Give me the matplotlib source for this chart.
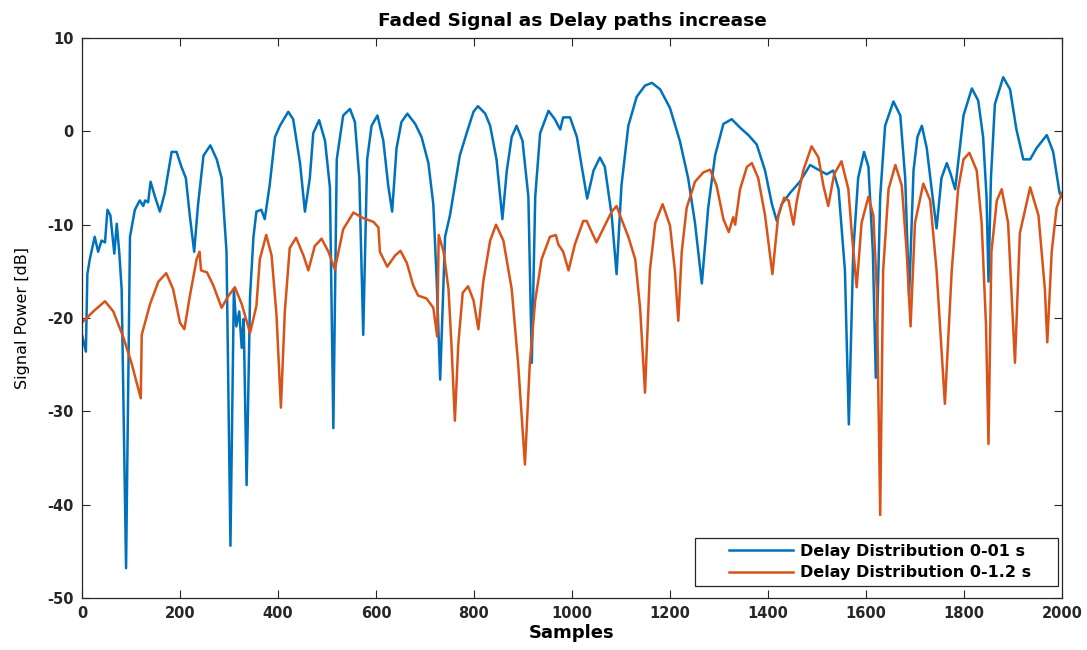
import matplotlib
matplotlib.use("Agg")
import matplotlib.pyplot as plt
from matplotlib.patches import Rectangle

# blue series: Delay Distribution 0-01 s (samples, dB)
blue_x = [0, 8, 11, 16, 26, 33, 40, 47, 52, 58, 66, 71, 76, 81, 90, 98, 108, 118, 125, 129,
          135, 140, 149, 159, 169, 183, 193, 203, 212, 220, 229, 237, 248, 262, 275, 285, 295, 303, 310, 315,
          321, 326, 330, 336, 343, 350, 356, 366, 373, 383, 394, 404, 421, 431, 445, 455, 465, 472, 484, 496,
          506, 513, 520, 533, 547, 557, 566, 574, 582, 591, 603, 615, 625, 633, 642, 652, 664, 680, 693, 707,
          717, 724, 731, 741, 751, 761, 771, 785, 799, 808, 823, 833, 846, 858, 867, 877, 887, 899, 911, 918,
          925, 935, 952, 965, 976, 982, 996, 1010, 1020, 1031, 1044, 1057, 1067, 1081, 1091, 1101, 1115, 1132, 1149, 1163,
          1180, 1200, 1220, 1237, 1251, 1265, 1278, 1292, 1309, 1326, 1343, 1360, 1377, 1394, 1408, 1418, 1428, 1445, 1465, 1486,
          1499, 1520, 1533, 1544, 1557, 1565, 1574, 1584, 1596, 1605, 1614, 1620, 1629, 1639, 1656, 1670, 1680, 1688, 1697, 1705,
          1714, 1724, 1734, 1744, 1754, 1765, 1773, 1782, 1788, 1799, 1816, 1829, 1839, 1846, 1850, 1855, 1863, 1880, 1894, 1907,
          1921, 1935, 1948, 1969, 1982, 1995, 2000]
blue_y = [-21.8, -23.6, -15.3, -13.7, -11.3, -12.9, -11.7, -11.9, -8.4, -9.0, -13.1, -9.9, -12.9, -16.9, -46.8, -11.3, -8.4, -7.4, -8.0, -7.4,
          -7.6, -5.4, -7.0, -8.6, -6.6, -2.2, -2.2, -3.8, -5.0, -9.0, -12.9, -7.8, -2.6, -1.5, -3.0, -5.0, -12.9, -44.4, -16.9, -20.9,
          -19.3, -23.2, -20.1, -37.9, -17.7, -11.3, -8.6, -8.4, -9.4, -5.8, -0.6, 0.6, 2.1, 1.3, -3.4, -8.6, -5.0, -0.2, 1.2, -1.0,
          -6.0, -31.8, -3.0, 1.7, 2.4, 1.0, -5.0, -21.8, -3.0, 0.6, 1.7, -1.0, -5.8, -8.6, -1.8, 1.0, 1.9, 0.8, -0.6, -3.4,
          -7.8, -16.1, -26.6, -11.3, -9.0, -5.8, -2.6, -0.2, 2.1, 2.7, 1.9, 0.6, -3.0, -9.4, -4.2, -0.6, 0.6, -1.0, -7.0, -24.8,
          -7.0, -0.2, 2.2, 1.3, 0.2, 1.5, 1.5, -0.6, -3.8, -7.2, -4.2, -2.8, -3.8, -9.0, -15.3, -5.8, 0.6, 3.7, 4.9, 5.2,
          4.5, 2.5, -1.0, -5.0, -9.8, -16.3, -8.2, -2.6, 0.8, 1.3, 0.4, -0.4, -1.4, -4.2, -7.8, -9.6, -7.8, -6.6, -5.4, -3.6,
          -4.0, -4.6, -4.2, -6.2, -14.9, -31.4, -12.9, -5.0, -2.2, -3.8, -12.9, -26.4, -7.0, 0.6, 3.2, 1.7, -5.0, -17.7, -4.2, -0.6,
          0.6, -1.8, -6.2, -10.4, -5.0, -3.4, -4.6, -6.2, -3.4, 1.7, 4.6, 3.3, -0.6, -7.0, -16.1, -5.0, 2.9, 5.8, 4.5, 0.2,
          -3.0, -3.0, -1.8, -0.4, -2.2, -6.6, -7.0]

# orange series: Delay Distribution 0-1.2 s
red_x = [0, 23, 47, 64, 84, 101, 120, 122, 139, 156, 172, 186, 200, 209, 220, 234, 240, 243, 255, 268,
         285, 298, 312, 326, 343, 356, 363, 376, 387, 397, 406, 414, 424, 437, 452, 462, 475, 489, 503, 516,
         533, 554, 574, 595, 605, 608, 623, 639, 650, 663, 676, 686, 703, 717, 725, 728, 738, 748, 754, 761,
         768, 777, 788, 799, 809, 819, 833, 845, 860, 877, 890, 904, 914, 925, 938, 955, 967, 972, 982, 993,
         1006, 1023, 1030, 1050, 1067, 1081, 1091, 1101, 1115, 1129, 1139, 1149, 1159, 1170, 1185, 1200, 1210, 1217, 1224, 1234,
         1251, 1268, 1282, 1295, 1309, 1320, 1329, 1333, 1343, 1357, 1367, 1380, 1394, 1409, 1421, 1433, 1442, 1452, 1459, 1472,
         1489, 1503, 1513, 1523, 1535, 1550, 1564, 1571, 1581, 1591, 1605, 1615, 1622, 1629, 1635, 1646, 1660, 1673, 1683, 1691,
         1700, 1717, 1731, 1744, 1761, 1775, 1788, 1799, 1811, 1826, 1836, 1845, 1850, 1856, 1867, 1877, 1890, 1904, 1914, 1935,
         1952, 1965, 1970, 1979, 1989, 2000]
red_y = [-20.5, -19.3, -18.2, -19.3, -22.0, -24.8, -28.6, -21.8, -18.5, -16.1, -15.2, -16.9, -20.5, -21.2, -17.7, -13.7, -12.9, -14.9, -15.1, -16.5,
         -18.9, -17.7, -16.7, -18.5, -21.6, -18.7, -13.7, -11.1, -13.3, -19.7, -29.6, -19.3, -12.5, -11.4, -13.3, -14.9, -12.3, -11.5, -12.9, -14.8,
         -10.5, -8.7, -9.3, -9.7, -10.3, -12.9, -14.5, -13.3, -12.8, -14.1, -16.5, -17.6, -17.9, -18.9, -22.0, -11.1, -12.9, -16.9, -22.8, -31.0,
         -22.8, -17.3, -16.6, -18.1, -21.2, -16.1, -11.7, -10.0, -11.7, -16.9, -24.8, -35.7, -24.8, -18.1, -13.7, -11.3, -11.1, -12.1, -12.9, -14.9,
         -12.1, -9.6, -9.6, -11.9, -10.1, -8.6, -8.0, -9.4, -11.3, -13.7, -18.9, -28.0, -14.9, -9.8, -7.8, -10.1, -14.9, -20.3, -12.9, -8.2,
         -5.4, -4.4, -4.1, -5.8, -9.4, -10.8, -9.2, -10.0, -6.2, -3.8, -3.4, -5.0, -9.0, -15.3, -9.0, -7.1, -7.4, -10.0, -7.4, -4.2,
         -1.6, -2.8, -5.8, -8.0, -4.6, -3.2, -6.2, -10.9, -16.7, -9.8, -7.0, -9.0, -16.9, -41.1, -14.9, -6.2, -3.6, -5.8, -12.9, -20.9,
         -9.8, -5.6, -7.4, -14.9, -29.2, -14.9, -6.2, -3.0, -2.3, -4.2, -9.8, -20.9, -33.5, -12.9, -7.4, -6.2, -9.8, -24.8, -10.9, -6.0,
         -9.0, -16.9, -22.6, -12.9, -8.2, -6.6]

labels = ["Delay Distribution 0-01 s", "Delay Distribution 0-1.2 s"]
xticks = list(range(0, 2001, 200))
yticks = list(range(-50, 11, 10))

plt.rcParams['font.family'] = ['DejaVu Sans']
plt.rcParams['axes.unicode_minus'] = False

W, H = 1087, 650
fig = plt.figure(figsize=(10.87, 6.5), dpi=100)
ax = fig.add_axes([0.0754, 0.08, 0.9016, 0.8615])

ax.plot(blue_x, blue_y, color='#0072BD', lw=1.8, label=labels[0])
ax.plot(red_x, red_y, color='#D95319', lw=1.8, label=labels[1])

ax.set_xlim(0, 2000)
ax.set_ylim(-50, 10)
ax.set_xticks(xticks)
ax.set_yticks(yticks)
ax.tick_params(direction='in', top=True, right=True, length=6, width=0.8,
               labelsize=10.5, colors='#262626', pad=6)
for lab in ax.get_xticklabels() + ax.get_yticklabels():
    lab.set_fontweight('bold')
for sp in ax.spines.values():
    sp.set_color('#262626')
    sp.set_linewidth(0.9)

ax.set_title("Faded Signal as Delay paths increase", fontsize=13.3, fontweight='bold', pad=9)
ax.set_xlabel("Samples", fontsize=13, fontweight='bold', labelpad=2)
ax.set_ylabel("Signal Power [dB]", fontsize=11.5, labelpad=12)

# matlab style legend box: own frame so the side margins are wider
box = Rectangle((695 / W, 1 - 586 / H), 363 / W, 48 / H, transform=fig.transFigure,
                facecolor='white', edgecolor='#262626', lw=0.9, zorder=4)
ax.add_patch(box)
leg = ax.legend(loc='center left', bbox_to_anchor=(729 / W, 1 - 562 / H),
                bbox_transform=fig.transFigure, borderaxespad=0, borderpad=0,
                frameon=False, handlelength=4.0, handletextpad=0.45, labelspacing=0.42,
                prop={'weight': 'bold', 'size': 11.5})
leg.set_zorder(5)

fig.savefig("out.png", dpi=100)
